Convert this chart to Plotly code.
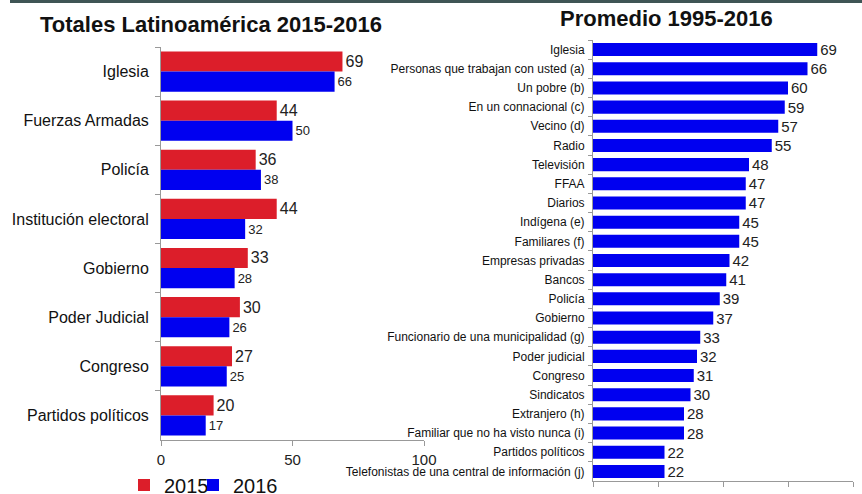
import plotly.graph_objects as go

left_categories = ["Iglesia", "Fuerzas Armadas", "Policía", "Institución electoral",
                   "Gobierno", "Poder Judicial", "Congreso", "Partidos políticos"]
values_2015 = [69, 44, 36, 44, 33, 30, 27, 20]
values_2016 = [66, 50, 38, 32, 28, 26, 25, 17]

right_categories = ["Iglesia", "Personas que trabajan con usted (a)", "Un pobre (b)",
                    "En un connacional (c)", "Vecino (d)", "Radio", "Televisión", "FFAA",
                    "Diarios", "Indígena (e)", "Familiares (f)", "Empresas privadas", "Bancos",
                    "Policía", "Gobierno", "Funcionario de una municipalidad (g)",
                    "Poder judicial", "Congreso", "Sindicatos", "Extranjero (h)",
                    "Familiar que no ha visto nunca (i)", "Partidos políticos",
                    "Telefonistas de una central de información (j)"]
values_avg = [69, 66, 60, 59, 57, 55, 48, 47, 47, 45, 45, 42, 41, 39, 37, 33, 32, 31, 30, 28, 28, 22, 22]

W, H = 862, 494
FONT = "Liberation Sans, Arial, sans-serif"
RED = "#dc1e2a"
BLUE = "#0000f0"

fig = go.Figure()
fig.add_trace(go.Bar(
    y=left_categories, x=values_2015, orientation="h", name="2015",
    marker=dict(color=RED, line=dict(width=0)), text=values_2015, textposition="outside",
    textfont=dict(size=16, color="#222"), cliponaxis=False, constraintext="none",
    xaxis="x", yaxis="y", legend="legend"))
fig.add_trace(go.Bar(
    y=left_categories, x=values_2016, orientation="h", name="2016",
    marker=dict(color=BLUE, line=dict(width=0)), text=values_2016, textposition="outside",
    textfont=dict(size=13, color="#222"), cliponaxis=False, constraintext="none",
    xaxis="x", yaxis="y", legend="legend2"))
fig.add_trace(go.Bar(
    y=right_categories, x=values_avg, orientation="h", name="Promedio",
    marker=dict(color=BLUE, line=dict(width=0)), text=values_avg, textposition="outside",
    textfont=dict(size=15, color="#222"), cliponaxis=False, constraintext="none", width=0.68,
    showlegend=False, xaxis="x2", yaxis="y2"))

def px_x(p):
    return p / W

def px_y(p):
    return 1 - p / H

legend_style = dict(orientation="h", y=px_y(485), xanchor="left", yanchor="middle",
                    font=dict(size=20, color="#111"), itemwidth=30,
                    bgcolor="rgba(0,0,0,0)")

fig.update_layout(
    width=W, height=H,
    margin=dict(l=0, r=0, t=0, b=0, autoexpand=False),
    paper_bgcolor="white", plot_bgcolor="white",
    font=dict(family=FONT, color="#222"),
    barmode="group", bargap=0.18, bargroupgap=0,
    showlegend=True,
    legend=dict(x=px_x(124), **legend_style),
    legend2=dict(x=px_x(193), **legend_style),
    xaxis=dict(domain=[px_x(161), px_x(424)], range=[0, 100], anchor="y", automargin=False,
               tickvals=[0, 50, 100], showgrid=False, zeroline=False,
               showline=True, linecolor="#999", ticks="outside", tickcolor="#999", ticklen=5,
               tickfont=dict(size=15, color="#222"), ticklabelstandoff=1),
    yaxis=dict(domain=[px_y(440), px_y(47)], anchor="x", autorange="reversed", automargin=False,
               showgrid=False, showline=True, linecolor="#999", ticks="outside",
               tickson="boundaries", tickcolor="#999", ticklen=5, ticklabelstandoff=8,
               tickfont=dict(size=16, color="#111")),
    xaxis2=dict(domain=[px_x(593), px_x(853)], range=[0, 80], anchor="y2", automargin=False,
                tickvals=[0, 20, 40, 60, 80], showgrid=False, zeroline=False,
                showline=True, linecolor="#999", ticks="outside", tickcolor="#999", ticklen=5,
                tickfont=dict(size=14, color="#222")),
    yaxis2=dict(domain=[px_y(481), px_y(40)], anchor="x2", autorange="reversed", automargin=False,
                showgrid=False, showline=True, linecolor="#999", ticks="outside",
                tickson="boundaries", tickcolor="#999", ticklen=4, ticklabelstandoff=5,
                tickfont=dict(size=12, color="#111")),
    annotations=[
        dict(text="<b>Totales Latinoamérica 2015-2016</b>", x=px_x(211), y=px_y(24),
             xref="paper", yref="paper", showarrow=False, xanchor="center", yanchor="middle",
             font=dict(size=22, color="#111")),
        dict(text="<b>Promedio 1995-2016</b>", x=px_x(666), y=px_y(18),
             xref="paper", yref="paper", showarrow=False, xanchor="center", yanchor="middle",
             font=dict(size=22, color="#111")),
    ],
    shapes=[
        dict(type="rect", xref="paper", yref="paper", x0=px_x(10), x1=1, y0=px_y(3), y1=1,
             line=dict(width=0), fillcolor="#3f5555", layer="above"),
    ],
)

fig.write_html("out.html", config={"displayModeBar": False},
               post_script="document.body.style.margin='0';document.body.style.overflow='hidden';")
